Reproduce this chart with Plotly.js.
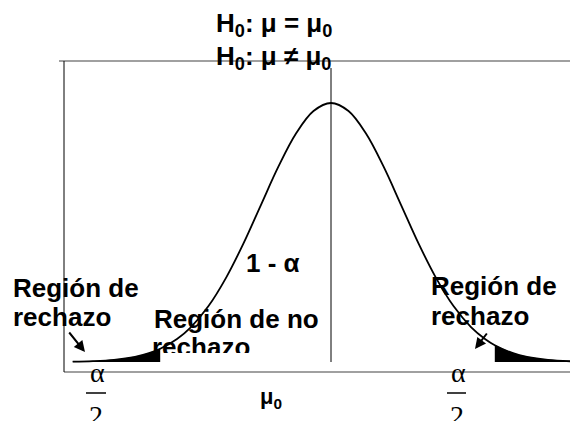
<!DOCTYPE html>
<html>
<head>
<meta charset="utf-8">
<script src="https://cdn.plot.ly/plotly-3.0.1.min.js"></script>
<style>
  html, body { margin: 0; padding: 0; background: #fff; }
  #chart { width: 570px; height: 421px; }
</style>
</head>
<body>
<div id="chart"></div>
<script>
// Standardised position along the axis (mu0 at 0) and relative curve height (peak = 1)
const curveZ = [-3.69, -3.4, -3.1, -2.8, -2.6, -2.44, -2.2, -2.0, -1.75, -1.5, -1.25, -1.0, -0.75, -0.5, -0.25,
                0, 0.25, 0.5, 0.75, 1.0, 1.25, 1.5, 1.75, 2.0, 2.2, 2.34, 2.6, 2.8, 3.1, 3.42];
const curveH = [0.0011, 0.0031, 0.0082, 0.0198, 0.034, 0.051, 0.089, 0.135, 0.216, 0.325, 0.458, 0.607, 0.755, 0.882, 0.969,
                1.0, 0.969, 0.882, 0.755, 0.607, 0.458, 0.325, 0.216, 0.135, 0.089, 0.065, 0.034, 0.0198, 0.0082, 0.0029];

// Critical values bounding the rejection regions
const leftCut = -2.44;
const rightCut = 2.34;

// Height of the mean marker line
const meanLineTop = 1.135;

// Text labels
const hypothesisNull = 'H<sub>0</sub>: μ = μ<sub>0</sub>';
const hypothesisAlt = 'H<sub>0</sub>: μ ≠ μ<sub>0</sub>';
const labelAccept = '1 - α';
const labelReject = ['Región de', 'rechazo'];
const labelNoReject = ['Región de no', 'rechazo'];
const labelMean = 'μ<sub>0</sub>';
const tailNumerator = 'α';
const tailDenominator = '2';

const W = 570, H = 421;
const px = v => v / W;
const py = v => 1 - v / H;

const leftTail = curveZ.map((z, i) => [z, curveH[i]]).filter(p => p[0] <= leftCut);
const rightTail = curveZ.map((z, i) => [z, curveH[i]]).filter(p => p[0] >= rightCut);

const mainFamily = 'Liberation Sans, Arial, sans-serif';

const traces = [
  {
    x: leftTail.map(p => p[0]), y: leftTail.map(p => p[1]),
    mode: 'lines', line: {color: '#000', width: 0.5, shape: 'spline'},
    fill: 'tozeroy', fillcolor: '#000', hoverinfo: 'skip'
  },
  {
    x: rightTail.map(p => p[0]), y: rightTail.map(p => p[1]),
    mode: 'lines', line: {color: '#000', width: 0.5, shape: 'spline'},
    fill: 'tozeroy', fillcolor: '#000', hoverinfo: 'skip'
  },
  {
    x: curveZ, y: curveH,
    mode: 'lines', line: {color: '#000', width: 1.8, shape: 'spline'},
    hoverinfo: 'skip'
  },
  // second line of the non-rejection label, clipped by its own subplot
  {
    x: [152], y: [349], xaxis: 'x2', yaxis: 'y2',
    mode: 'text', text: [labelNoReject[1]], textposition: 'middle right',
    textfont: {family: mainFamily, size: 26, color: '#000', weight: 'bold'},
    cliponaxis: true, hoverinfo: 'skip'
  }
];

const boldFont = size => ({family: mainFamily, size: size, color: '#000', weight: 'bold'});
const serifFont = size => ({family: 'Liberation Serif, Times New Roman, serif', size: size, color: '#000'});

function label(text, x, y, font, xanchor) {
  return {text: text, xref: 'paper', yref: 'paper', x: px(x), y: py(y),
          xanchor: xanchor || 'left', yanchor: 'middle', showarrow: false, font: font};
}

const annotations = [
  label(hypothesisNull, 214, 25, boldFont(26)),
  label(hypothesisAlt, 214, 57, boldFont(26)),
  label(labelAccept, 244, 263, boldFont(26)),
  label(labelReject[0], 11, 288, boldFont(26)),
  label(labelReject[1], 11, 317, boldFont(26)),
  label(labelNoReject[0], 152, 319, boldFont(26)),
  label(labelReject[0], 429, 286, boldFont(26)),
  label(labelReject[1], 429, 316, boldFont(26)),
  label(labelMean, 271, 398, boldFont(22), 'center'),
  label(tailNumerator, 97, 372, serifFont(28), 'center'),
  label(tailDenominator, 96, 415, serifFont(28), 'center'),
  label(tailNumerator, 458, 372, serifFont(28), 'center'),
  label(tailDenominator, 457, 415, serifFont(28), 'center'),
  // arrows towards the rejection regions
  {text: '', xref: 'paper', yref: 'paper', x: px(85), y: py(352), ax: -17, ay: -21,
   showarrow: true, arrowhead: 2, arrowsize: 1.1, arrowwidth: 2, arrowcolor: '#000'},
  {text: '', xref: 'paper', yref: 'paper', x: px(475), y: py(349), ax: 13, ay: -17,
   showarrow: true, arrowhead: 2, arrowsize: 1.1, arrowwidth: 2, arrowcolor: '#000'}
];

const shapes = [
  // frame
  {type: 'line', xref: 'paper', yref: 'paper', x0: px(59), x1: 1, y0: py(61), y1: py(61), line: {color: '#808080', width: 1.6}},
  {type: 'line', xref: 'paper', yref: 'paper', x0: px(64), x1: 1, y0: py(372), y1: py(372), line: {color: '#808080', width: 1.6}},
  {type: 'line', xref: 'paper', yref: 'paper', x0: px(64), x1: px(64), y0: py(61), y1: py(372), line: {color: '#000', width: 1}},
  // mean marker
  {type: 'line', xref: 'x', yref: 'y', x0: 0, x1: 0, y0: 0, y1: meanLineTop, line: {color: '#000', width: 1}},
  // fraction bars
  {type: 'line', xref: 'paper', yref: 'paper', x0: px(86), x1: px(106), y0: py(393), y1: py(393), line: {color: '#000', width: 1.5}},
  {type: 'line', xref: 'paper', yref: 'paper', x0: px(447), x1: px(466), y0: py(393), y1: py(393), line: {color: '#000', width: 1.5}}
];

const layout = {
  width: W, height: H,
  margin: {l: 0, r: 0, t: 0, b: 0},
  paper_bgcolor: '#fff', plot_bgcolor: 'rgba(0,0,0,0)',
  showlegend: false,
  xaxis: {range: [-331 / 70, (W - 331) / 70], visible: false, domain: [0, 1]},
  yaxis: {range: [(362 - H) / 259, 362 / 259], visible: false, domain: [0, 1]},
  xaxis2: {range: [0, W], visible: false, domain: [0, 1], anchor: 'y2'},
  yaxis2: {range: [353, 0], visible: false, domain: [(H - 353) / H, 1], anchor: 'x2'},
  shapes: shapes,
  annotations: annotations
};

Plotly.newPlot('chart', traces, layout, {displayModeBar: false, staticPlot: true});
</script>
</body>
</html>
